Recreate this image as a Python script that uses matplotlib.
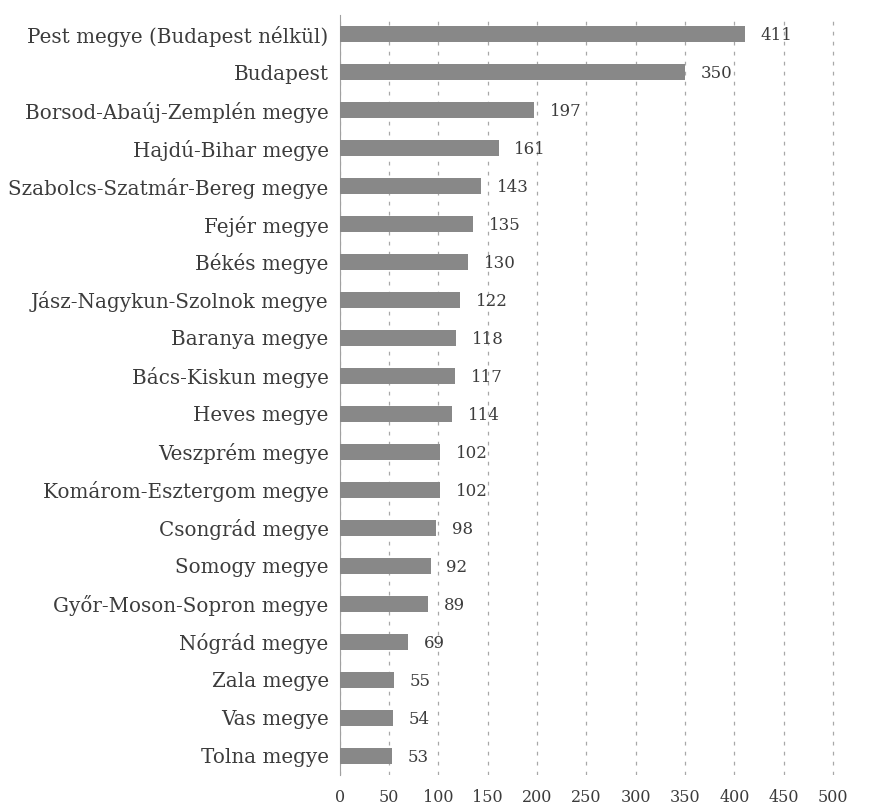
import matplotlib.pyplot as plt

megyek = ["Pest megye (Budapest nélkül)", "Budapest", "Borsod-Abaúj-Zemplén megye",
          "Hajdú-Bihar megye", "Szabolcs-Szatmár-Bereg megye", "Fejér megye",
          "Békés megye", "Jász-Nagykun-Szolnok megye", "Baranya megye",
          "Bács-Kiskun megye", "Heves megye", "Veszprém megye",
          "Komárom-Esztergom megye", "Csongrád megye", "Somogy megye",
          "Győr-Moson-Sopron megye", "Nógrád megye", "Zala megye", "Vas megye",
          "Tolna megye"]
ertekek = [411, 350, 197, 161, 143, 135, 130, 122, 118, 117, 114, 102, 102,
           98, 92, 89, 69, 55, 54, 53]
xticks = [0, 50, 100, 150, 200, 250, 300, 350, 400, 450, 500]

plt.rcParams['font.family'] = ['DejaVu Serif']
txt = '#3c3c3c'

fig = plt.figure(figsize=(8.85, 8.11), dpi=100)
ax = fig.add_axes([0.384, 0.0444, 0.5627, 0.9371])

pos = list(range(len(megyek)))
ax.barh(pos, ertekek, height=0.4, color='#888888', zorder=3)
for p, v in zip(pos, ertekek):
    ax.text(v + 16, p + 0.05, str(v), va='center', ha='left', fontsize=12, color=txt, zorder=4)

ax.set_ylim(len(megyek) - 0.5, -0.5)
ax.set_xlim(0, 505)
ax.set_xticks(xticks)
ax.set_xticklabels([str(t) for t in xticks], fontsize=11.5, color=txt)
ax.set_yticks(pos)
ax.set_yticklabels(megyek, fontsize=14.3, color=txt)
ax.tick_params(length=0)
ax.tick_params(axis='x', pad=10)
ax.tick_params(axis='y', pad=8)
ax.xaxis.grid(True, linestyle=(0, (3, 5)), color='#a8a8a8', linewidth=0.9)
for s in ['top', 'right', 'bottom']:
    ax.spines[s].set_visible(False)
ax.spines['left'].set_color('#a0a0a0')
ax.set_axisbelow(True)

fig.savefig('out.png', dpi=100)
